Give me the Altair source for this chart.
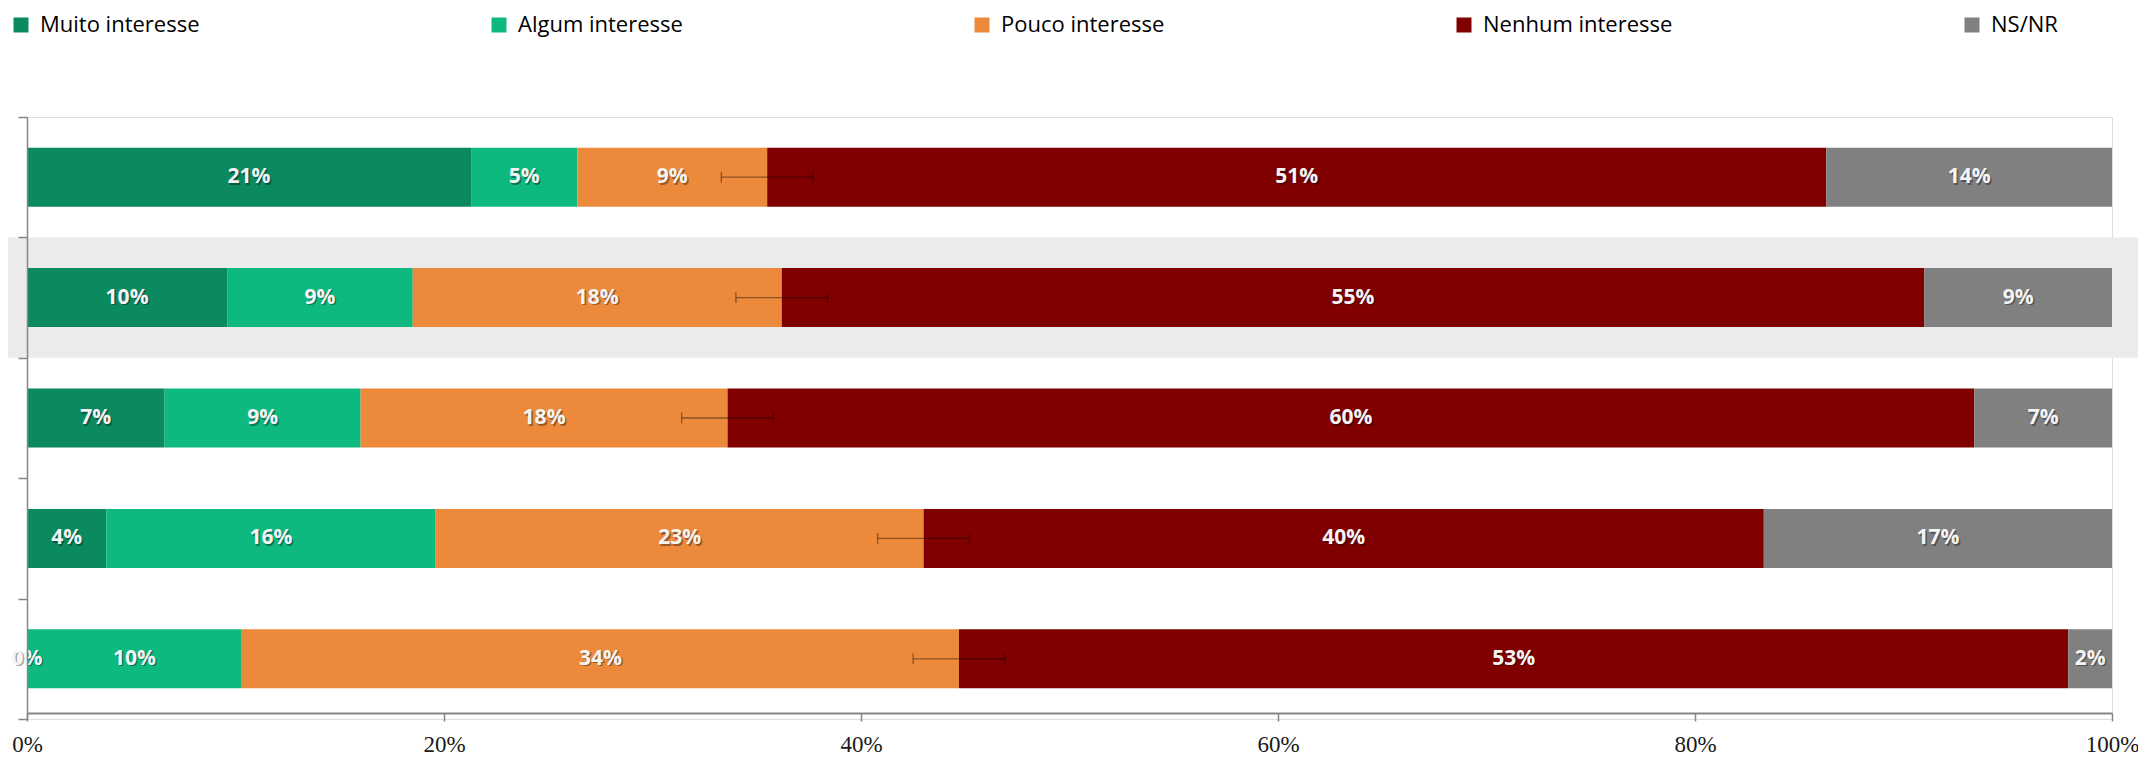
import altair as alt
import pandas as pd

# ---------------- data ----------------
categories = ["Linha 1", "Linha 2", "Linha 3", "Linha 4", "Linha 5"]
responses = ["Muito interesse", "Algum interesse", "Pouco interesse", "Nenhum interesse", "NS/NR"]
colors = ["#0A8A5E", "#0DB97F", "#EC893B", "#800000", "#808080"]

muito = [21.3, 9.6, 6.6, 3.8, 0.0]
algum = [5.1, 8.9, 9.4, 15.8, 10.3]
pouco = [9.1, 17.7, 17.6, 23.4, 34.4]
nenhum = [50.8, 54.8, 59.8, 40.3, 53.2]
nsnr = [13.7, 9.0, 6.6, 16.7, 2.1]
error_margin = [2.2, 2.2, 2.2, 2.2, 2.2]
highlight = [categories[1]]
x_ticks = [0, 20, 40, 60, 80, 100]

# ---------------- tables ----------------
series = [muito, algum, pouco, nenhum, nsnr]
rows = []
for i, cat in enumerate(categories):
    start = 0.0
    for j, resp in enumerate(responses):
        v = series[j][i]
        rows.append({"categoria": cat, "resposta": resp, "ordem": j, "valor": v,
                     "start": start, "end": start + v, "mid": start + v / 2,
                     "label": f"{v:.0f}%"})
        start += v
bars_df = pd.DataFrame(rows)

err_rows = []
for i, cat in enumerate(categories):
    c = muito[i] + algum[i] + pouco[i]
    err_rows.append({"categoria": cat, "lo": c - error_margin[i], "hi": c + error_margin[i]})
err_df = pd.DataFrame(err_rows)
band_df = pd.DataFrame({"categoria": highlight})

# ---------------- layout ----------------
W, H = 2085, 602
PAD = {"left": 19, "top": 109, "right": 26, "bottom": 38}
step = H / len(categories)
bar_size = 59

y_enc = alt.Y("categoria:N", sort=categories, title=None,
              scale=alt.Scale(domain=categories, paddingInner=0, paddingOuter=0),
              axis=alt.Axis(labels=False, tickBand="extent", tickSize=9, tickWidth=1.5,
                            tickColor="#868686", domainColor="#868686", domainWidth=1.5,
                            zindex=1))

x_scale = alt.Scale(domain=[0, 100], nice=False, zero=True)
x_axis = alt.Axis(values=x_ticks, labelExpr="datum.value + '%'", title=None, grid=False,
                  domainColor="#868686", domainWidth=2, tickColor="#868686", tickSize=8,
                  tickWidth=1.5, labelFont="Liberation Sans Narrow", labelFontSize=23,
                  labelColor="#1a1a1a", labelPadding=12, labelFlush=False, offset=-6,
                  zindex=1)

band = alt.Chart(band_df).mark_bar(size=step, color="#EBEBEB").encode(
    y=y_enc, x=alt.value(-PAD["left"]), x2=alt.value(W + PAD["right"]))

bars = alt.Chart(bars_df).mark_bar(size=bar_size).encode(
    x=alt.X("start:Q", scale=x_scale, axis=x_axis),
    x2="end:Q",
    y=y_enc,
    color=alt.Color("resposta:N", scale=alt.Scale(domain=responses, range=colors),
                    legend=alt.Legend(title=None, orient="none", legendX=-17, legendY=-103,
                                      direction="horizontal", columns=5, symbolType="square",
                                      symbolSize=225, symbolStrokeWidth=0,
                                      labelFont="Open Sans", labelFontSize=22,
                                      labelColor="#000000", labelOffset=8, labelLimit=0,
                                      columnPadding=288, gridAlign="each", padding=0)),
    order=alt.Order("ordem:Q"))

err_line = alt.Chart(err_df).mark_rule(color="#000000", opacity=0.4, strokeWidth=1.3).encode(
    x="lo:Q", x2="hi:Q", y=y_enc)
err_caps = alt.Chart(err_df).transform_fold(["lo", "hi"], as_=["k", "pos"]).mark_tick(
    orient="vertical", size=11, thickness=1.3, color="#000000", opacity=0.4).encode(
    x="pos:Q", y=y_enc)

shadow = alt.Chart(bars_df).mark_text(font="Open Sans", fontWeight="bold", fontSize=21,
                                      color="#000000", opacity=0.35, dx=1.5, dy=1.5).encode(
    x="mid:Q", y=y_enc, text="label:N")
labels = alt.Chart(bars_df).mark_text(font="Open Sans", fontWeight="bold", fontSize=21,
                                      color="#F4F4F4").encode(
    x="mid:Q", y=y_enc, text="label:N")

chart = alt.layer(band, bars, err_line, err_caps, shadow, labels).properties(
    width=W, height=H, padding=PAD,
    autosize=alt.AutoSizeParams(type="none"),
).configure_view(stroke=None).configure(background="white")

chart.save("out.html", embed_options={"renderer": "svg", "actions": False})
